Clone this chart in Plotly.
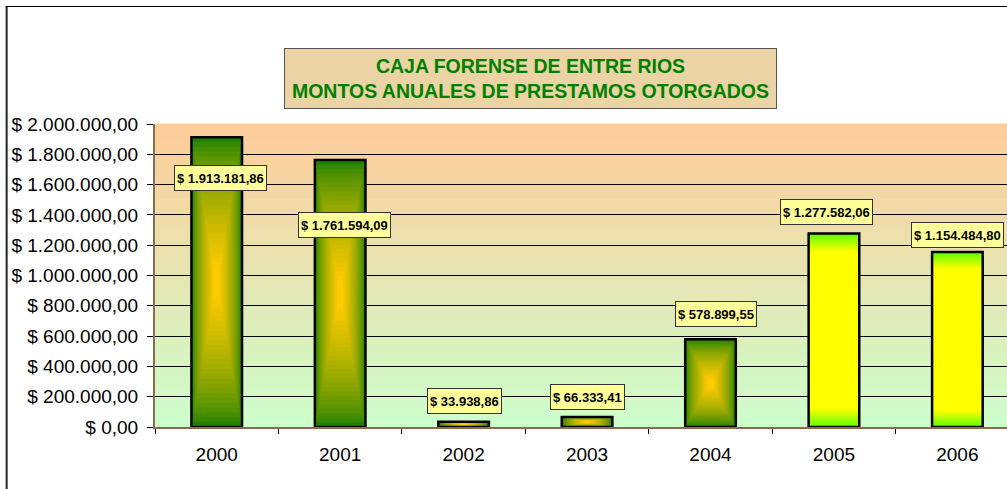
import plotly.graph_objects as go

# ---------------- data ----------------
years = ["2000", "2001", "2002", "2003", "2004", "2005", "2006"]
amounts = [1913181.86, 1761594.09, 33938.86, 66333.41, 578899.55, 1277582.06, 1154484.80]
fill_style = ["center", "center", "center", "center", "center", "edges", "edges"]
y_tick_values = [0, 200000, 400000, 600000, 800000, 1000000, 1200000, 1400000, 1600000, 1800000, 2000000]
title_lines = ["CAJA FORENSE DE ENTRE RIOS", "MONTOS ANUALES DE PRESTAMOS OTORGADOS"]

# label nudges (pixels) – styling only
label_xshift = [3.5, 4.5, 1, 0, 5, -7.5, 0]
label_yshift = [-41, -64.7, 20.4, 20.2, 25.1, 21.8, 17.1]


def money(v):
    s = f"{v:,.2f}".replace(",", "X").replace(".", ",").replace("X", ".")
    return "$ " + s


def text_em(s):
    w = {".": 0.278, ",": 0.278, " ": 0.278}
    return sum(w.get(c, 0.556) for c in s)


def lerp(c1, c2, t):
    return "rgb(%d,%d,%d)" % tuple(round(a + (b - a) * t) for a, b in zip(c1, c2))


FONT = "Arial, Liberation Sans, sans-serif"
W, H = 1007, 489
L, R, T, B = 155.3, 0, 124, 62
PW = W - L - R
PH = H - T - B


def px2paper_x(px):
    return (px - L) / PW


def px2paper_y(py):
    return (H - B - py) / PH


BW = 0.41
fig = go.Figure()

# centre-gradient bars (rectangle gradient from centre)
edge_green = (10, 122, 0)
centre_gold = (255, 204, 0)
idx_c = [i for i, s in enumerate(fill_style) if s == "center"]
N = 30
for k in range(N):
    t = k / N
    tc = min(1.0, ((k + 0.5) / N) ** 0.6 * 1.05)
    fig.add_trace(go.Bar(
        x=[years[i] for i in idx_c],
        y=[amounts[i] * (1 - t) for i in idx_c],
        base=[amounts[i] * t / 2 for i in idx_c],
        width=[BW * (1 - t)] * len(idx_c),
        marker=dict(color=lerp(edge_green, centre_gold, tc), line=dict(width=0)),
        hoverinfo="skip", showlegend=False,
    ))

# yellow bars with green top/bottom edges
lime = (90, 255, 0)
yellow = (255, 255, 0)
idx_e = [i for i, s in enumerate(fill_style) if s == "edges"]
fig.add_trace(go.Bar(
    x=[years[i] for i in idx_e], y=[amounts[i] for i in idx_e],
    width=[BW] * len(idx_e),
    marker=dict(color="rgb(255,255,0)", line=dict(width=0)),
    hoverinfo="skip", showlegend=False,
))
M = 10
F = 0.095
for q in range(M, 0, -1):
    d = F * q / M
    col = lerp(lime, yellow, (q - 0.5) / M)
    fig.add_trace(go.Bar(
        x=[years[i] for i in idx_e], y=[amounts[i] * d for i in idx_e],
        base=[amounts[i] * (1 - d) for i in idx_e],
        width=[BW] * len(idx_e),
        marker=dict(color=col, line=dict(width=0)),
        hoverinfo="skip", showlegend=False,
    ))
    fig.add_trace(go.Bar(
        x=[years[i] for i in idx_e], y=[amounts[i] * d for i in idx_e],
        base=[0] * len(idx_e),
        width=[BW] * len(idx_e),
        marker=dict(color=col, line=dict(width=0)),
        hoverinfo="skip", showlegend=False,
    ))

# outline of every bar
fig.add_trace(go.Bar(
    x=years, y=amounts, width=[BW] * len(years),
    marker=dict(color="rgba(0,0,0,0)", line=dict(color="black", width=2.5)),
    hoverinfo="skip", showlegend=False,
))

# background gradient of plot area
top_c = (255, 204, 153)
bot_c = (204, 255, 204)
shapes = []
NB = 80
for j in range(NB):
    shapes.append(dict(
        type="rect", xref="x domain", yref="y domain",
        x0=0, x1=1, y0=j / NB, y1=(j + 1) / NB + 0.002,
        fillcolor=lerp(bot_c, top_c, (j + 0.5) / NB), line=dict(width=0), layer="below",
    ))

# chart frame (left and top border)
shapes.append(dict(type="line", xref="paper", yref="paper",
                   x0=px2paper_x(7), x1=px2paper_x(7), y0=px2paper_y(6), y1=px2paper_y(495),
                   line=dict(color="#222222", width=2)))
shapes.append(dict(type="line", xref="paper", yref="paper",
                   x0=px2paper_x(6), x1=px2paper_x(1010), y0=px2paper_y(6.5), y1=px2paper_y(6.5),
                   line=dict(color="black", width=1)))

LABEL_SIZE = 13
annotations = []
for i, v in enumerate(amounts):
    txt = money(v)
    annotations.append(dict(
        x=i, y=v, xref="x", yref="y", text="<b>" + txt + "</b>",
        showarrow=False, xshift=label_xshift[i], yshift=label_yshift[i],
        width=text_em(txt) * LABEL_SIZE + 1, height=21,
        font=dict(family=FONT, size=LABEL_SIZE, color="black"),
        bgcolor="#FFFF99", bordercolor="#333333", borderwidth=1, borderpad=1.5,
    ))

annotations.append(dict(
    xref="paper", yref="paper", x=px2paper_x(530.5), y=px2paper_y(48.5),
    text="<b>" + "<br>".join(title_lines) + "</b>",
    showarrow=False, align="center", width=491, height=59,
    font=dict(family=FONT, size=19.5, color="#008000"),
    bgcolor="#EBD3A6", bordercolor="#555555", borderwidth=1, borderpad=0,
))

fig.update_layout(
    width=W, height=H,
    margin=dict(l=L, r=R, t=T, b=B, pad=0),
    paper_bgcolor="white", plot_bgcolor="rgba(0,0,0,0)",
    barmode="overlay",
    shapes=shapes, annotations=annotations,
    font=dict(family=FONT, color="black"),
    xaxis=dict(
        type="category", range=[-0.5, (W - L) / 123.4 - 0.5],
        tickson="boundaries", ticks="outside", ticklen=5, tickcolor="black",
        showgrid=False, showline=True, linecolor="#8B6B4B", linewidth=2,
        tickfont=dict(family=FONT, size=19, color="black"),
        ticklabelstandoff=9,
        fixedrange=True,
    ),
    yaxis=dict(
        range=[0, 2000000], tickvals=y_tick_values,
        ticktext=[money(v) for v in y_tick_values],
        ticks="outside", ticklen=6, tickcolor="black",
        showgrid=True, gridcolor="black", gridwidth=1,
        showline=True, linecolor="#8B6B4B", linewidth=2,
        zeroline=False,
        tickfont=dict(family=FONT, size=19, color="black"),
        ticklabelstandoff=5,
        fixedrange=True,
    ),
)

fig.write_html("out.html", config={"displayModeBar": False},
               post_script="document.body.style.margin='0';document.body.style.overflow='hidden';")
